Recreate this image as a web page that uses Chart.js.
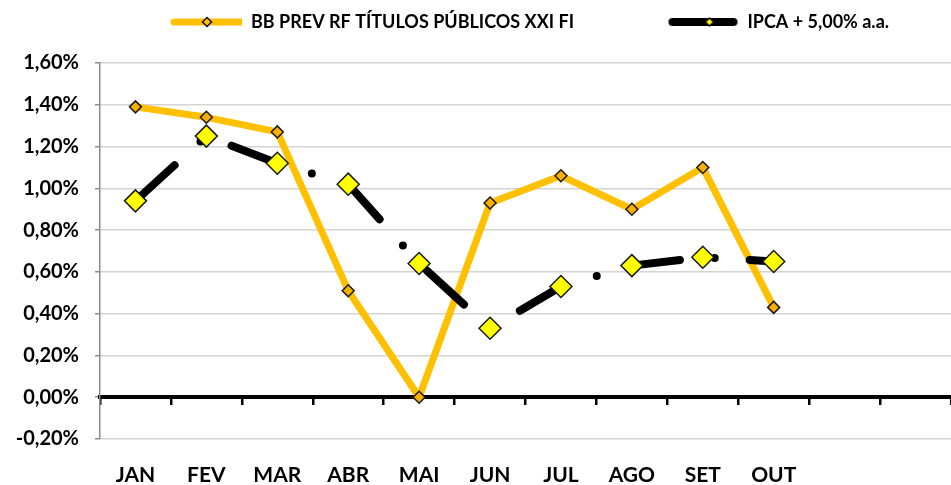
<!DOCTYPE html>
<html>
<head>
<meta charset="utf-8">
<script src="https://cdn.jsdelivr.net/npm/chart.js@4.4.1/dist/chart.umd.min.js"></script>
<style>
    html, body { margin: 0; padding: 0; background: #fff; overflow: hidden; }
    #wrap { width: 951px; height: 485px; position: relative; }
</style>
</head>
<body>
<div id="wrap"><canvas id="lineChart"></canvas></div>
<script>
// meses (NOV e DEZ sem rótulo no original)
const meses = ['JAN', 'FEV', 'MAR', 'ABR', 'MAI', 'JUN', 'JUL', 'AGO', 'SET', 'OUT', '', ''];
// rentabilidade mensal em %
const bbPrev = [1.39, 1.34, 1.27, 0.51, 0.00, 0.93, 1.06, 0.90, 1.10, 0.43, null, null];
const ipca = [0.94, 1.25, 1.12, 1.02, 0.64, 0.33, 0.53, 0.63, 0.67, 0.65, null, null];
const yMin = -0.2;
const yMax = 1.6;
const yStep = 0.2;

const legendNames = ['BB PREV RF TÍTULOS PÚBLICOS XXI FI', 'IPCA + 5,00% a.a.'];

const fontFamily = 'Lato, "Open Sans", sans-serif';
const laranja = '#FFC000';

// ícones da legenda (linha + losango)
function legendIcon(color, lineW, x1, x2, mx, mr, fill) {
    const c = document.createElement('canvas');
    c.width = 132;
    c.height = 16;
    const g = c.getContext('2d');
    g.strokeStyle = color;
    g.lineWidth = lineW;
    g.lineCap = 'round';
    g.beginPath();
    g.moveTo(x1, 8);
    g.lineTo(x2, 8);
    g.stroke();
    g.beginPath();
    g.moveTo(mx - mr, 8);
    g.lineTo(mx, 8 - mr);
    g.lineTo(mx + mr, 8);
    g.lineTo(mx, 8 + mr);
    g.closePath();
    g.fillStyle = fill;
    g.fill();
    g.lineWidth = 1.5;
    g.strokeStyle = '#111';
    g.stroke();
    return c;
}
const iconBB = legendIcon(laranja, 7, 64, 133, 97, 4.5, laranja);
const iconIpca = legendIcon('#000', 8, 66, 127, 103, 4, '#FFFF00');

// altura fixa da legenda para o topo do gráfico cair no mesmo lugar
const legendGap = {
    id: 'legendGap',
    beforeLayout(chart) {
        const lg = chart.legend;
        if (lg && !lg._gapPatched) {
            const fit = lg.fit;
            lg.fit = function () {
                fit.call(this);
                this.height = 60;
            };
            lg._gapPatched = true;
        }
    }
};

const noSidePad = (s) => { s.paddingLeft = 0; s.paddingRight = 0; };

const dataLine = {
    labels: meses,
    datasets: [{
        label: legendNames[0],
        data: bbPrev,
        order: 1,
        borderColor: laranja,
        borderWidth: 7,
        borderJoinStyle: 'round',
        tension: 0,
        pointStyle: 'rectRot',
        pointRadius: 6,
        pointBackgroundColor: '#F5B000',
        pointBorderColor: '#1a1a1a',
        pointBorderWidth: 1.5
    }, {
        label: legendNames[1],
        data: ipca,
        order: 0,
        borderColor: '#000',
        borderWidth: 8,
        borderDash: [50, 35, 0, 35],
        borderDashOffset: -3,
        borderCapStyle: 'round',
        borderJoinStyle: 'round',
        tension: 0,
        pointStyle: 'rectRot',
        pointRadius: 11,
        pointBackgroundColor: '#FFFF00',
        pointBorderColor: '#1a1a1a',
        pointBorderWidth: 1.5
    }]
};

let lineChart = document.getElementById('lineChart');
if (lineChart) {
    new Chart('lineChart', {
        type: 'line',
        data: dataLine,
        plugins: [legendGap],
        options: {
            responsive: true,
            maintainAspectRatio: false,
            animation: false,
            layout: { autoPadding: false, padding: { top: 3, left: 0, right: -3, bottom: 0 } },
            plugins: {
                tooltip: { enabled: false },
                legend: {
                    position: 'top',
                    align: 'start',
                    fullSize: false,
                    labels: {
                        usePointStyle: true,
                        pointStyleWidth: 132,
                        padding: 10,
                        color: '#000',
                        font: { family: fontFamily, weight: 'bold', size: 18 },
                        generateLabels: () => [
                            // espaço largo no fim afasta o segundo item como no original
                            { text: legendNames[0] + '\u2003\u2002', datasetIndex: 0, pointStyle: iconBB, fillStyle: laranja, strokeStyle: laranja, lineWidth: 0, fontColor: '#000' },
                            { text: legendNames[1], datasetIndex: 1, pointStyle: iconIpca, fillStyle: '#000', strokeStyle: '#000', lineWidth: 0, fontColor: '#000' }
                        ]
                    }
                }
            },
            scales: {
                x: {
                    type: 'category',
                    position: 'bottom',
                    offset: true,
                    grid: { display: false, drawTicks: false },
                    border: { display: false },
                    ticks: {
                        color: '#000',
                        padding: 24,
                        maxRotation: 0,
                        autoSkip: false,
                        font: { family: fontFamily, weight: 'bold', size: 21 }
                    },
                    afterFit: (s) => { s.height = 46; noSidePad(s); }
                },
                x2: {
                    type: 'category',
                    position: { y: 0 },
                    offset: true,
                    grid: {
                        offset: true,
                        drawOnChartArea: false,
                        drawTicks: true,
                        tickLength: 6,
                        color: '#000',
                        lineWidth: 2.5
                    },
                    border: { display: true, color: '#000', width: 4 },
                    ticks: { display: false },
                    afterFit: noSidePad
                },
                y: {
                    min: yMin,
                    max: yMax,
                    ticks: {
                        stepSize: yStep,
                        color: '#000',
                        padding: 16,
                        font: { family: fontFamily, weight: 'bold', size: 20 },
                        callback: (v) => v.toFixed(2).replace('.', ',') + '%'
                    },
                    grid: {
                        color: '#d4d4d4',
                        lineWidth: 1.5,
                        borderDash: [8, 5],
                        tickLength: 5,
                        tickColor: '#8c8c8c',
                        tickWidth: 1.5,
                        tickBorderDash: []
                    },
                    border: { display: true, color: '#8c8c8c', width: 1.5 },
                    afterFit: (s) => { s.width = 100; }
                }
            }
        }
    });
}
</script>
</body>
</html>
